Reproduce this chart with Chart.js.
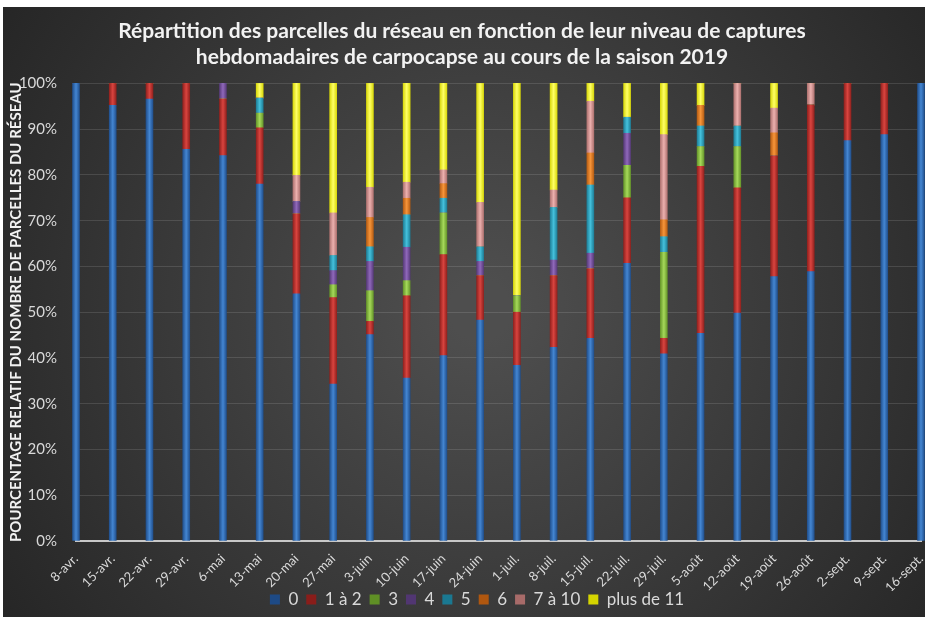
<!DOCTYPE html>
<html>
<head>
<meta charset="utf-8">
<script src="https://cdn.jsdelivr.net/npm/chart.js@4.4.1/dist/chart.umd.min.js"></script>
<style>
  html, body { margin: 0; padding: 0; background: #fff; }
  canvas { display: block; }
</style>
</head>
<body>
<canvas id="chart" width="925" height="617"></canvas>
<script>
const weeks = ['8-avr.', '15-avr.', '22-avr.', '29-avr.', '6-mai', '13-mai', '20-mai', '27-mai',
  '3-juin', '10-juin', '17-juin', '24-juin', '1-juil.', '8-juil.', '15-juil.', '22-juil.',
  '29-juil.', '5-août', '12-août', '19-août', '26-août', '2-sept.', '9-sept.', '16-sept.'];

// % of plots per capture level
const zero = [100, 95.2, 96.6, 85.6, 84.2, 78.0, 54.0, 34.3, 45.1, 35.6, 40.5, 48.3,
  38.4, 42.3, 44.3, 60.7, 40.9, 45.4, 49.8, 57.8, 58.9, 87.5, 88.8, 100];
const oneToTwo = [0, 4.8, 3.4, 14.4, 12.4, 12.3, 17.5, 18.9, 2.9, 18.0, 22.1, 9.7,
  11.6, 15.7, 15.2, 14.3, 3.4, 36.5, 27.4, 26.4, 36.4, 12.5, 11.2, 0];
const three = [0, 0, 0, 0, 0, 3.2, 0, 2.8, 6.7, 3.3, 9.1, 0,
  3.6, 0, 0, 7.1, 18.8, 4.3, 9.0, 0, 0, 0, 0, 0];
const four = [0, 0, 0, 0, 3.4, 0, 2.7, 3.1, 6.4, 7.3, 0, 3.1,
  0, 3.4, 3.4, 7.0, 0, 0, 0, 0, 0, 0, 0, 0];
const five = [0, 0, 0, 0, 0, 3.3, 0, 3.3, 3.2, 7.1, 3.2, 3.2,
  0, 11.5, 14.9, 3.5, 3.4, 4.5, 4.5, 0, 0, 0, 0, 0];
const six = [0, 0, 0, 0, 0, 0, 0, 0, 6.4, 3.6, 3.2, 0,
  0, 0, 7.0, 0, 3.7, 4.5, 0, 5.0, 0, 0, 0, 0];
const sevenToTen = [0, 0, 0, 0, 0, 0, 5.7, 9.3, 6.6, 3.5, 3.0, 9.7,
  0, 3.8, 11.3, 0, 18.6, 0, 9.3, 5.4, 4.7, 0, 0, 0];
const overEleven = [0, 0, 0, 0, 0, 3.2, 20.1, 28.3, 22.7, 21.6, 18.9, 26.0,
  46.4, 23.3, 3.9, 7.4, 11.2, 4.8, 0, 5.4, 0, 0, 0, 0];

const FONT = 'Lato, "Open Sans", sans-serif';

// base / light centre / dark edge
const palette = [
  ['#2f6bb5', '#4486d2', '#1d4a86'],
  ['#c0302c', '#d9443f', '#8a1d1a'],
  ['#8cc63f', '#a6d95a', '#5f8f25'],
  ['#7650a0', '#9068bb', '#513672'],
  ['#2aa7c3', '#45c1dc', '#1a7891'],
  ['#e87b1e', '#f7953a', '#b0570f'],
  ['#d99694', '#ecb0ae', '#a86b69'],
  ['#ffff00', '#ffff66', '#d4d400'],
];

function barFill(colors) {
  return ctx => {
    const chart = ctx.chart;
    if (ctx.type !== 'data' || !chart.chartArea) return colors[0];
    const cx = chart.scales.x.getPixelForValue(ctx.dataIndex);
    const g = chart.ctx.createLinearGradient(cx - 4, 0, cx + 4, 0);
    g.addColorStop(0, colors[2]);
    g.addColorStop(0.5, colors[1]);
    g.addColorStop(1, colors[2]);
    return g;
  };
}

const series = [
  ['0', zero], ['1 à 2', oneToTwo], ['3', three], ['4', four],
  ['5', five], ['6', six], ['7 à 10', sevenToTen], ['plus de 11', overEleven],
];

const datasets = series.map(([label, values], i) => ({
  label: label,
  data: values,
  backgroundColor: barFill(palette[i]),
  borderWidth: 0,
  barThickness: 7,
  clip: false,
}));

const background = {
  id: 'background',
  beforeDraw(chart) {
    const c = chart.ctx;
    const w = chart.width;
    const h = chart.height;
    c.save();
    c.fillStyle = '#ffffff';
    c.fillRect(0, 0, w, h);
    const g = c.createRadialGradient(480, 310, 30, 480, 310, 620);
    g.addColorStop(0, '#4e4e4e');
    g.addColorStop(1, '#222222');
    c.fillStyle = g;
    c.fillRect(3, 7, w - 3, h - 7);
    c.restore();
  },
};

// legend sits a little right of centre and tucked under the date labels
const legendShift = {
  id: 'legendShift',
  afterLayout(chart) {
    chart.legend.left += 15;
    chart.legend.right += 15;
    chart.legend.top -= 8;
    chart.legend.bottom -= 8;
  },
};

new Chart(document.getElementById('chart'), {
  type: 'bar',
  data: { labels: weeks, datasets: datasets },
  plugins: [background, legendShift],
  options: {
    responsive: false,
    devicePixelRatio: 1,
    animation: false,
    layout: { padding: { left: 3, right: 4, top: 19, bottom: -9 } },
    plugins: {
      title: {
        display: true,
        text: ['Répartition des parcelles du réseau en fonction de leur niveau de captures',
          'hebdomadaires de carpocapse au cours de la saison 2019'],
        color: '#f2f2f2',
        font: { family: FONT, size: 21, weight: 'bold' },
        lineHeight: 1.1,
        padding: { top: 0, bottom: 14 },
      },
      legend: {
        position: 'bottom',
        labels: {
          color: '#d9d9d9',
          font: { family: FONT, size: 17 },
          boxWidth: 10,
          boxHeight: 10,
          padding: 8,
        },
      },
      tooltip: { enabled: false },
    },
    scales: {
      x: {
        stacked: true,
        offset: false,
        grid: { display: false, drawTicks: false },
        border: { color: '#c8c8c8', width: 2 },
        ticks: {
          color: '#d9d9d9',
          font: { family: FONT, size: 13 },
          minRotation: 45,
          maxRotation: 45,
          autoSkip: false,
          padding: 10,
        },
        afterFit(scale) {
          scale.paddingLeft = 0;
          scale.paddingRight = 0;
          scale.height = 50;
        },
      },
      y: {
        stacked: true,
        min: 0,
        max: 100,
        grid: { color: 'rgba(255,255,255,0.12)', drawTicks: false },
        border: { display: false },
        ticks: {
          stepSize: 10,
          color: '#d9d9d9',
          font: { family: FONT, size: 15 },
          padding: 19,
          callback: v => v + '%',
        },
        title: {
          display: true,
          text: 'POURCENTAGE RELATIF DU NOMBRE DE PARCELLES DU RÉSEAU',
          color: '#f2f2f2',
          font: { family: FONT, size: 15, weight: 'bold' },
          padding: { top: 4, bottom: 0 },
        },
        afterFit(scale) {
          scale.paddingTop = 0;
          scale.paddingBottom = 0;
          scale.width = 73;
        },
      },
    },
  },
});
</script>
</body>
</html>
